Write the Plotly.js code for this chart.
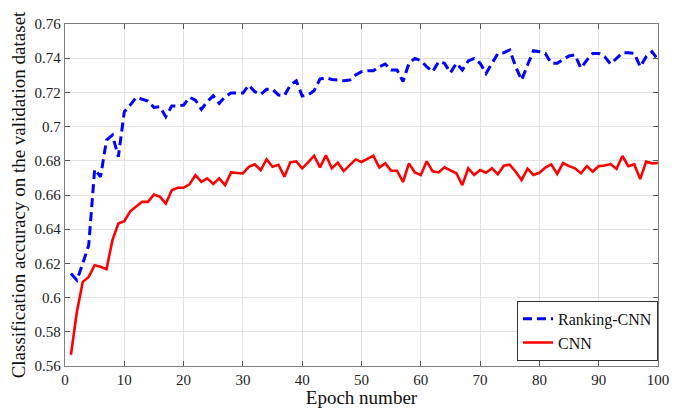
<!DOCTYPE html>
<html>
<head>
<meta charset="utf-8">
<script src="https://cdn.plot.ly/plotly-3.0.1.min.js"></script>
<style>html,body{margin:0;padding:0;background:#fff;}#chart{width:679px;height:408px;}</style>
</head>
<body>
<div id="chart"></div>
<script>
const epochs = Array.from({length: 100}, (_, i) => i + 1);

const rankingCNN = [
  0.6141, 0.6102, 0.6200, 0.6307, 0.6750, 0.6707, 0.6921, 0.6950, 0.6824, 0.7087,
  0.7126, 0.7171, 0.7160, 0.7150, 0.7112, 0.7116, 0.7058, 0.7120, 0.7120, 0.7126,
  0.7171, 0.7155, 0.7101, 0.7146, 0.7180, 0.7136, 0.7175, 0.7196, 0.7196, 0.7196,
  0.7243, 0.7204, 0.7189, 0.7218, 0.7218, 0.7185, 0.7181, 0.7243, 0.7268, 0.7179,
  0.7185, 0.7210, 0.7278, 0.7286, 0.7276, 0.7272, 0.7268, 0.7272, 0.7302, 0.7321,
  0.7327, 0.7327, 0.7350, 0.7366, 0.7331, 0.7331, 0.7263, 0.7370, 0.7399, 0.7386,
  0.7350, 0.7321, 0.7380, 0.7370, 0.7315, 0.7370, 0.7331, 0.7384, 0.7399, 0.7370,
  0.7311, 0.7370, 0.7428, 0.7432, 0.7448, 0.7350, 0.7272, 0.7360, 0.7444, 0.7438,
  0.7428, 0.7370, 0.7370, 0.7393, 0.7413, 0.7419, 0.7341, 0.7389, 0.7428, 0.7428,
  0.7409, 0.7366, 0.7399, 0.7432, 0.7432, 0.7428, 0.7350, 0.7409, 0.7438, 0.7389
];

const cnn = [
  0.5666, 0.5916, 0.6092, 0.6121, 0.6189, 0.6180, 0.6166, 0.6336, 0.6433, 0.6447,
  0.6505, 0.6531, 0.6560, 0.6560, 0.6603, 0.6590, 0.6550, 0.6628, 0.6642, 0.6642,
  0.6662, 0.6716, 0.6677, 0.6697, 0.6664, 0.6697, 0.6658, 0.6732, 0.6730, 0.6726,
  0.6765, 0.6779, 0.6746, 0.6808, 0.6765, 0.6777, 0.6707, 0.6791, 0.6797, 0.6756,
  0.6791, 0.6830, 0.6762, 0.6832, 0.6756, 0.6789, 0.6740, 0.6775, 0.6808, 0.6793,
  0.6812, 0.6830, 0.6760, 0.6785, 0.6742, 0.6742, 0.6676, 0.6785, 0.6732, 0.6717,
  0.6797, 0.6738, 0.6732, 0.6762, 0.6744, 0.6727, 0.6658, 0.6756, 0.6717, 0.6746,
  0.6730, 0.6756, 0.6721, 0.6771, 0.6777, 0.6736, 0.6687, 0.6754, 0.6717, 0.6730,
  0.6760, 0.6779, 0.6723, 0.6787, 0.6769, 0.6756, 0.6727, 0.6769, 0.6736, 0.6769,
  0.6773, 0.6781, 0.6752, 0.6828, 0.6769, 0.6779, 0.6693, 0.6795, 0.6785, 0.6787
];

const seriesNames = ["Ranking-CNN", "CNN"];
const xTickVals = [0, 10, 20, 30, 40, 50, 60, 70, 80, 90, 100];
const yTickVals = [0.56, 0.58, 0.6, 0.62, 0.64, 0.66, 0.68, 0.7, 0.72, 0.74, 0.76];
const yTickText = ["0.56", "0.58", "0.6", "0.62", "0.64", "0.66", "0.68", "0.7", "0.72", "0.74", "0.76"];

const serif = "Liberation Serif, Times New Roman, serif";

const traces = [
  {x: epochs, y: rankingCNN, name: seriesNames[0], type: "scatter", mode: "lines",
   line: {color: "#0000ff", width: 3, dash: "9px,5px"}},
  {x: epochs, y: cnn, name: seriesNames[1], type: "scatter", mode: "lines",
   line: {color: "#ff0000", width: 2.6}}
];

const axisCommon = {
  showline: true, linecolor: "#7f7f7f", linewidth: 1.2, mirror: "ticks",
  ticks: "inside", ticklen: 5, tickcolor: "#555", tickwidth: 1,
  showgrid: true, gridcolor: "#e3e3e3", gridwidth: 1, zeroline: false,
  tickfont: {family: serif, size: 15, color: "#222"}
};

const layout = {
  width: 679, height: 408,
  font: {family: serif},
  margin: {l: 65, r: 21, t: 24, b: 42},
  paper_bgcolor: "#fff", plot_bgcolor: "#fff",
  showlegend: true,
  legend: {x: 1, y: 0.015, xanchor: "right", yanchor: "bottom",
           bgcolor: "#fff", bordercolor: "#333", borderwidth: 1,
           font: {family: serif, size: 16, color: "#111"},
           tracegroupgap: 0, itemwidth: 30},
  xaxis: Object.assign({}, axisCommon, {
    range: [0, 100], tickvals: xTickVals,
    title: {text: "Epoch number", font: {family: serif, size: 19, color: "#111"}, standoff: 1}
  }),
  yaxis: Object.assign({}, axisCommon, {
    range: [0.56, 0.76], tickvals: yTickVals, ticktext: yTickText,
    title: {text: "Classification accuracy on the validation dataset", font: {family: serif, size: 19, color: "#111"}, standoff: 3}
  })
};

Plotly.newPlot("chart", traces, layout, {displayModeBar: false, staticPlot: true});
</script>
</body>
</html>
